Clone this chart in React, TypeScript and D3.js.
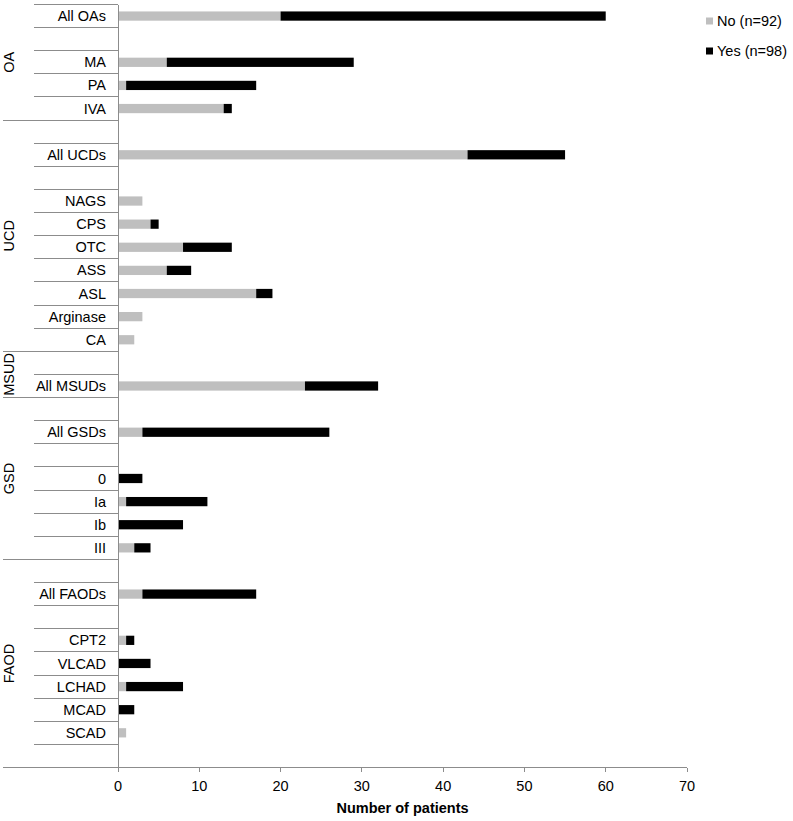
import * as d3 from 'd3';

// rows from top to bottom (blank strings are the spacer rows)
const categories = [
  'All OAs', '', 'MA', 'PA', 'IVA',
  '', 'All UCDs', '', 'NAGS', 'CPS', 'OTC', 'ASS', 'ASL', 'Arginase', 'CA',
  '', 'All MSUDs',
  '', 'All GSDs', '', '0', 'Ia', 'Ib', 'III',
  '', 'All FAODs', '', 'CPT2', 'VLCAD', 'LCHAD', 'MCAD', 'SCAD', '',
];
const groupNames = ['OA', 'UCD', 'MSUD', 'GSD', 'FAOD'];
const groupSizes = [5, 10, 2, 7, 9];

const noCounts = [
  20, 0, 6, 1, 13,
  0, 43, 0, 3, 4, 8, 6, 17, 3, 2,
  0, 23,
  0, 3, 0, 0, 1, 0, 2,
  0, 3, 0, 1, 0, 1, 0, 1, 0,
];
const yesCounts = [
  40, 0, 23, 16, 1,
  0, 12, 0, 0, 1, 6, 3, 2, 0, 0,
  0, 9,
  0, 23, 0, 3, 10, 8, 2,
  0, 14, 0, 1, 4, 7, 2, 0, 0,
];
const seriesNames = ['No (n=92)', 'Yes (n=98)'];
const seriesColors = ['#bfbfbf', '#000000'];
const xTicks = [0, 10, 20, 30, 40, 50, 60, 70];

const W = 793;
const H = 821;
const FONT = 'Liberation Sans, Arial, sans-serif';
const LINE = '#8c8c8c';

export default function App() {
  const x = d3.scaleLinear().domain([0, 70]).range([118, 687]);
  const y = d3.scaleBand<number>().domain(d3.range(categories.length)).range([4.5, 767.5]);
  const step = y.step();
  const barH = step * 0.4;

  const rows = categories.map((c, i) => ({ i, no: noCounts[i], yes: yesCounts[i] }));
  const stacked = d3.stack<any>().keys(['no', 'yes'])(rows);

  // group boundaries
  const bounds: number[] = [];
  let acc = 0;
  groupSizes.forEach((s) => { bounds.push(acc); acc += s; });

  return (
    <svg width={W} height={H} style={{ position: 'absolute', left: 0, top: 0 }} fontFamily={FONT}>
      {/* bars */}
      {stacked.map((layer, k) => (
        <g key={k} fill={seriesColors[k]}>
          {layer.map((d, i) => (d[1] - d[0] > 0 ? (
            <rect key={i} x={x(d[0])} width={x(d[1]) - x(d[0])}
              y={(y(i) as number) + step / 2 - barH / 2} height={barH} />
          ) : null))}
        </g>
      ))}

      {/* category separators */}
      <g stroke={LINE} strokeWidth={1} shapeRendering="crispEdges">
        {d3.range(categories.length).map((i) => {
          const isGroup = bounds.includes(i) && i > 0;
          return <line key={i} x1={isGroup ? 3 : 34} x2={118} y1={y(i)} y2={y(i)} />;
        })}
        <line x1={34} x2={118} y1={767.5 - step} y2={767.5 - step} />
        {/* axes */}
        <line x1={118} x2={118} y1={4.5} y2={772} />
        <line x1={3} x2={687} y1={767.5} y2={767.5} />
        {xTicks.map((t) => (
          <line key={t} x1={x(t)} x2={x(t)} y1={767.5} y2={772} />
        ))}
      </g>

      {/* category labels */}
      <g fontSize={14.5} textAnchor="end" fill="#000">
        {categories.map((c, i) => (
          <text key={i} x={106} y={(y(i) as number) + step / 2} dy="0.35em">{c}</text>
        ))}
      </g>

      {/* group labels */}
      <g fontSize={14.5} textAnchor="middle" fill="#000">
        {groupNames.map((g, k) => {
          const top = y(bounds[k]) as number;
          const cy = top + (groupSizes[k] * step) / 2;
          return <text key={g} transform={`translate(13.5,${cy}) rotate(-90)`}>{g}</text>;
        })}
      </g>

      {/* x tick labels */}
      <g fontSize={14.5} textAnchor="middle" fill="#000">
        {xTicks.map((t) => (
          <text key={t} x={x(t)} y={786} dy="0.35em">{t}</text>
        ))}
      </g>
      <text x={x(35)} y={808} dy="0.35em" textAnchor="middle" fontSize={14.5} fontWeight="bold">
        Number of patients
      </text>

      {/* legend */}
      {seriesNames.map((s, k) => (
        <g key={s} transform={`translate(706,${21 + k * 30})`}>
          <rect x={0} y={-3.5} width={7} height={7} fill={seriesColors[k]} />
          <text x={11} y={0} dy="0.35em" fontSize={14.5}>{s}</text>
        </g>
      ))}
    </svg>
  );
}
